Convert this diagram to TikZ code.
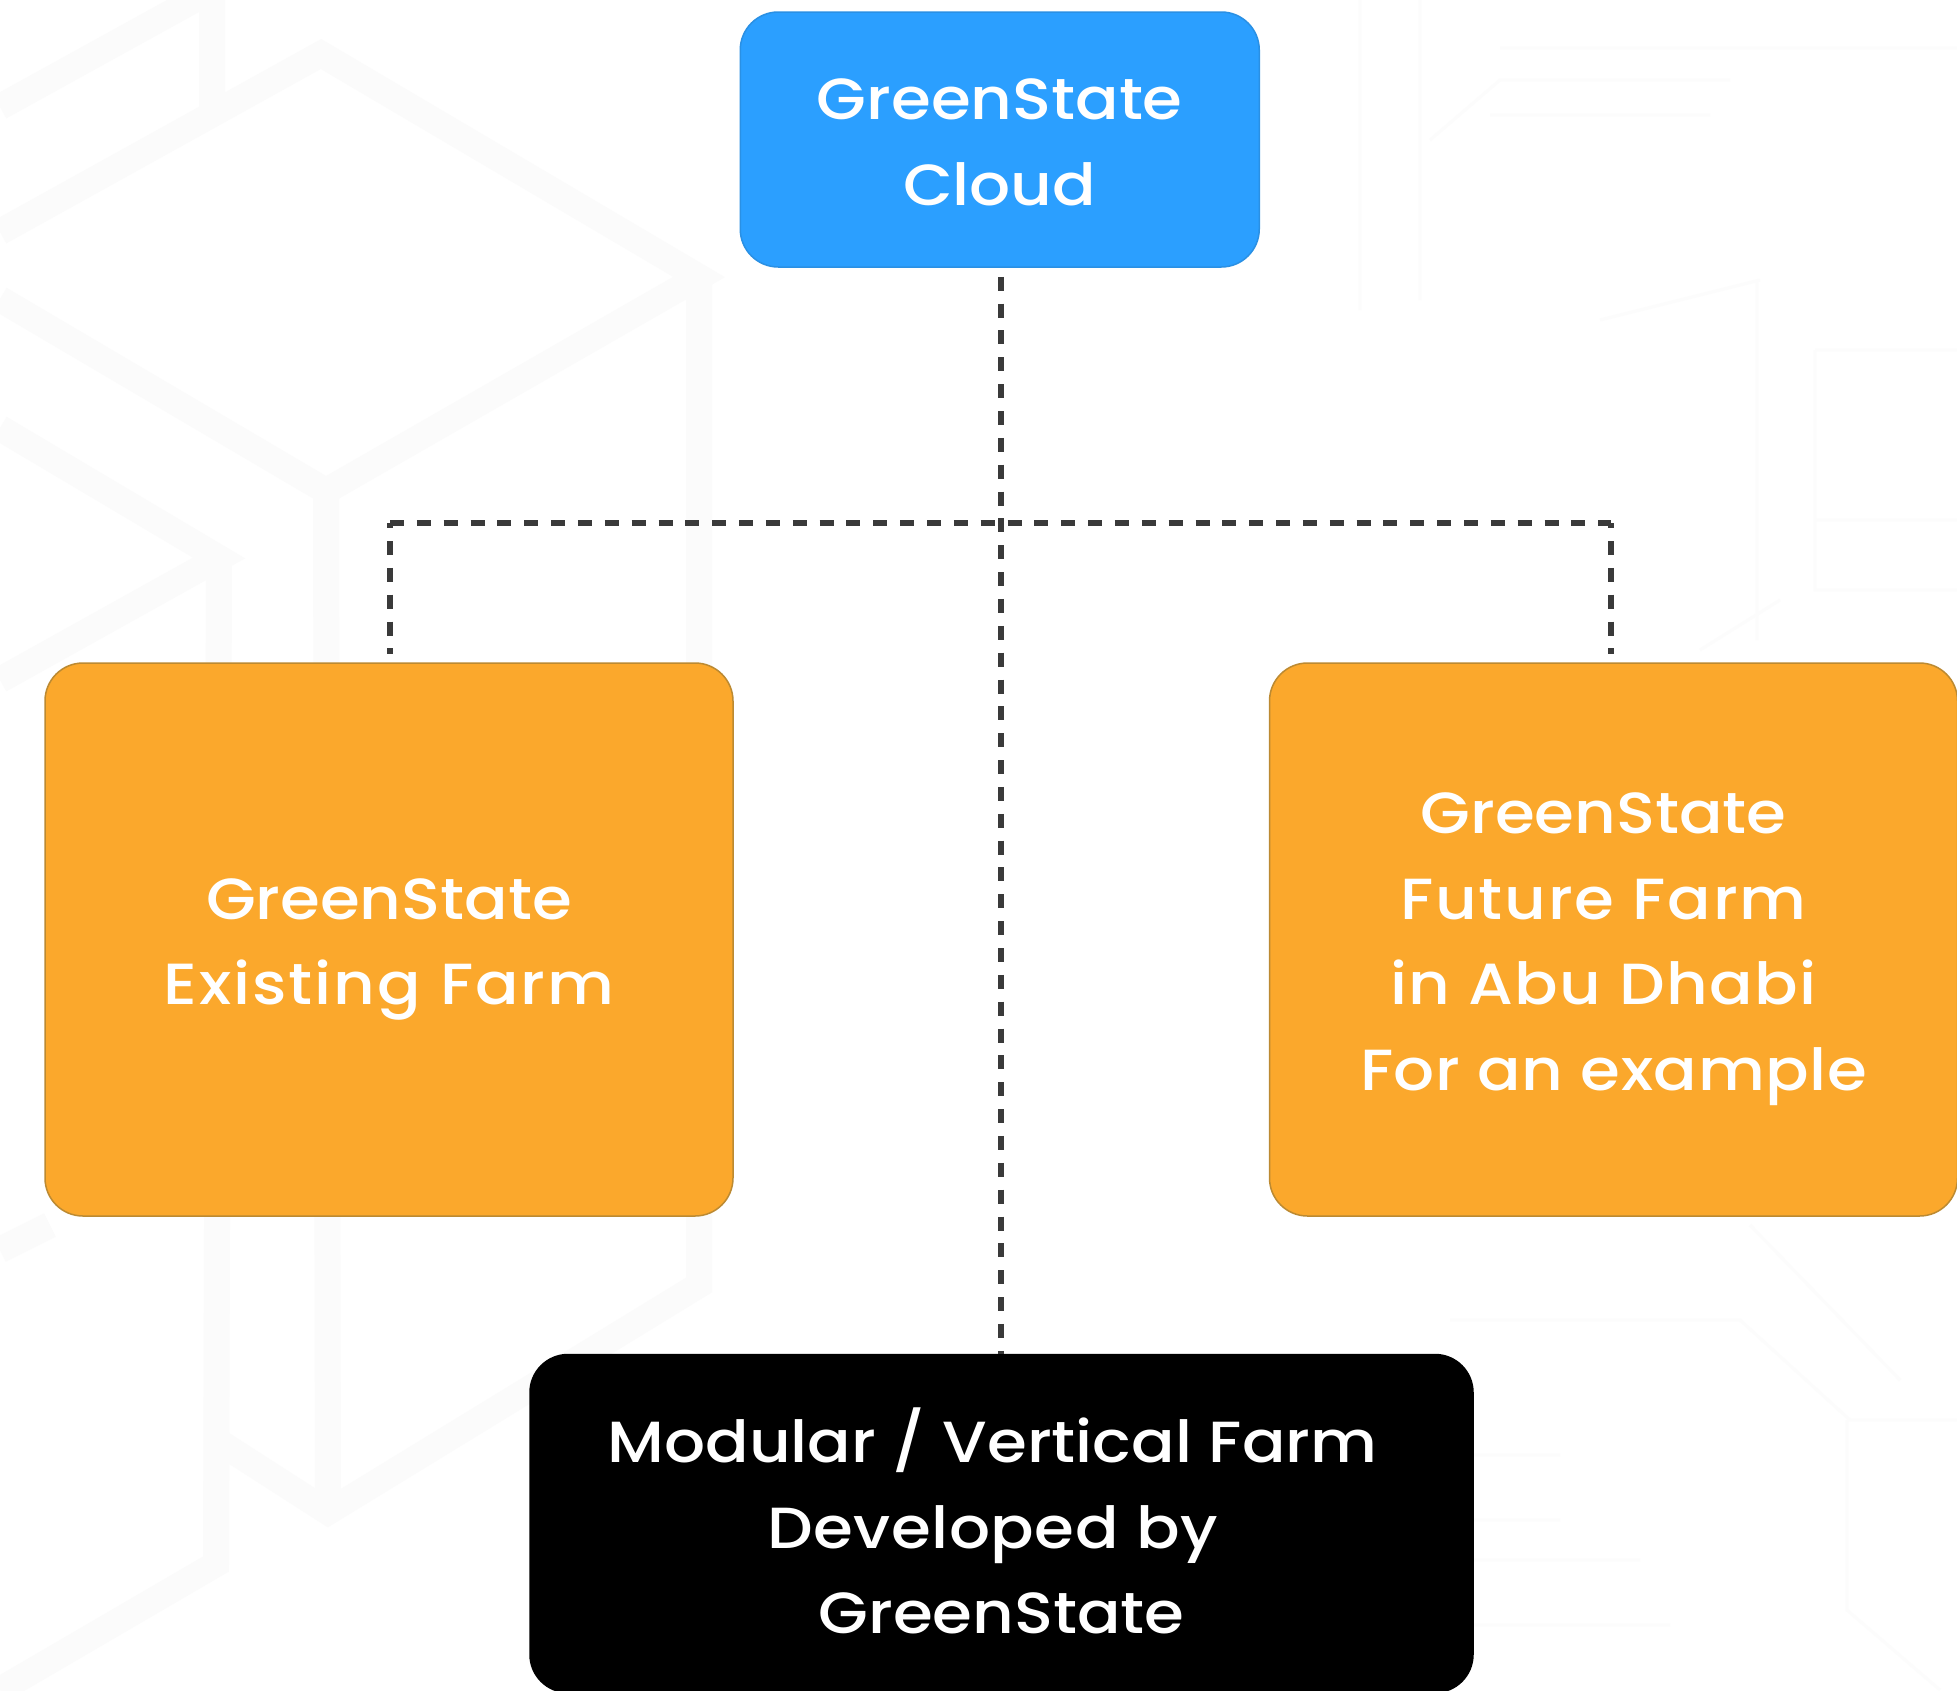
\documentclass[tikz,border=0pt]{standalone}
\usepackage{fontspec}
\setmainfont{Poppins}[UprightFont=* Medium,FakeStretch=1.11]
\definecolor{cblue}{HTML}{2B9FFF}
\definecolor{cblueb}{HTML}{2A90E4}
\definecolor{corange}{HTML}{FBA82C}
\definecolor{corangeb}{HTML}{BC8A32}
\definecolor{cdash}{HTML}{3A3A3A}
\definecolor{cwm}{HTML}{FBFBFB}
\definecolor{cwmt}{HTML}{FCFCFC}
\newcommand{\dnstrut}[1]{\rule{0pt}{#1pt}}
\newcommand{\upstrut}[1]{\rule[-#1pt]{0pt}{#1pt}}
\newcommand{\tailgap}[1]{\hspace*{#1pt}\mbox{}}
\newcommand{\wider}[2]{{\addfontfeature{LetterSpace=#1}#2}}
\tikzset{
  boxbase/.style={rounded corners=38pt, inner sep=0pt, text=white, align=center, line width=1.5pt,
    font=\fontsize{58}{85.5}\selectfont},
  bluebox/.style={boxbase, draw=cblueb, fill=cblue, minimum width=519pt, minimum height=255pt},
  orangebox/.style={boxbase, draw=corangeb, fill=corange, minimum width=688pt, minimum height=553pt},
  blackbox/.style={boxbase, draw=black, fill=black, minimum width=943pt, minimum height=338pt},
  dashline/.style={draw=cdash, line width=5.5pt, dash pattern=on 14pt off 12.85pt},
  wmband/.style={draw=cwm, line width=26pt, line join=miter},
  wmthin/.style={draw=cwmt, line width=3pt}
}
\begin{document}
\begin{tikzpicture}[x=1pt,y=-1pt]
\useasboundingbox (0,0) rectangle (1957,1690);
\fill[white] (0,0) rectangle (1957,1690);
% faint watermark, left
\draw[wmband] (0,107) -- (212,-10) (212,0) -- (212,115);
\draw[wmband] (0,232) -- (321,54) -- (699,277) -- (326,491) -- (0,299);
\draw[wmband] (0,428) -- (219,558) -- (0,680);
\draw[wmband] (699,277) -- (699,1285) -- (328,1512) -- (216,1440);
\draw[wmband] (326,491) -- (328,1512);
\draw[wmband] (219,558) -- (216,1564) -- (0,1690);
\draw[wmband] (0,1250) -- (50,1225);
% faint watermark, right
\draw[wmthin] (1500,48) -- (1957,48) (1430,140) -- (1500,80) -- (1730,80)
  (1490,115) -- (1710,115) (1600,320) -- (1760,280) (1757,280) -- (1757,640)
  (1815,350) -- (1957,350) (1815,350) -- (1815,590) -- (1957,590)
  (1815,520) -- (1957,520) (1780,600) -- (1700,650)
  (1360,0) -- (1360,310) (1420,0) -- (1420,300)
  (1450,1320) -- (1740,1320) -- (1850,1420) -- (1957,1420)
  (1750,1225) -- (1900,1380) (1847,1420) -- (1847,1610) -- (1940,1690)
  (1473,1455) -- (1560,1455) (1473,1520) -- (1560,1520)
  (1473,1560) -- (1640,1560) (1473,1625) -- (1670,1625);
% boxes
\node[bluebox] (cloud) at (999.75,139.5) {\dnstrut{47}GreenState\\Cloud};
\node[orangebox] (existing) at (389,939.5) {\dnstrut{61}GreenState\\\wider{3.5}{Existing Farm}};
\node[orangebox] (future) at (1613.5,939.5) {\dnstrut{60}GreenState\tailgap{20}\\\wider{3}{Future Farm}\tailgap{20}\\\wider{2.2}{in Abu Dhabi}\tailgap{20}\\\wider{1}{For an example}};
\node[blackbox] (modular) at (1001.5,1523.5) {Modular / Vertical Farm\tailgap{18}\\\wider{1}{Developed by}\tailgap{18}\\GreenState\upstrut{5}};
% connectors
\coordinate (hub) at (1001,523);
\coordinate (jl) at (390,523);
\coordinate (jr) at (1611,523);
\draw[dashline, shorten <=9pt] (cloud.south -| hub) -- (modular.north -| hub);
\draw[dashline] (jl) -- (jr);
\draw[dashline, dash pattern=on 5pt off 13pt on 14pt off 12.85pt on 14pt off 12.85pt on 14pt off 12.85pt on 14pt off 12.85pt on 20pt, shorten >=8pt] (jl) -- (existing.north -| jl);
\draw[dashline, dash pattern=on 5pt off 13pt on 14pt off 12.85pt on 14pt off 12.85pt on 14pt off 12.85pt on 14pt off 12.85pt on 20pt, shorten >=8pt] (jr) -- (future.north -| jr);
\end{tikzpicture}
\end{document}
